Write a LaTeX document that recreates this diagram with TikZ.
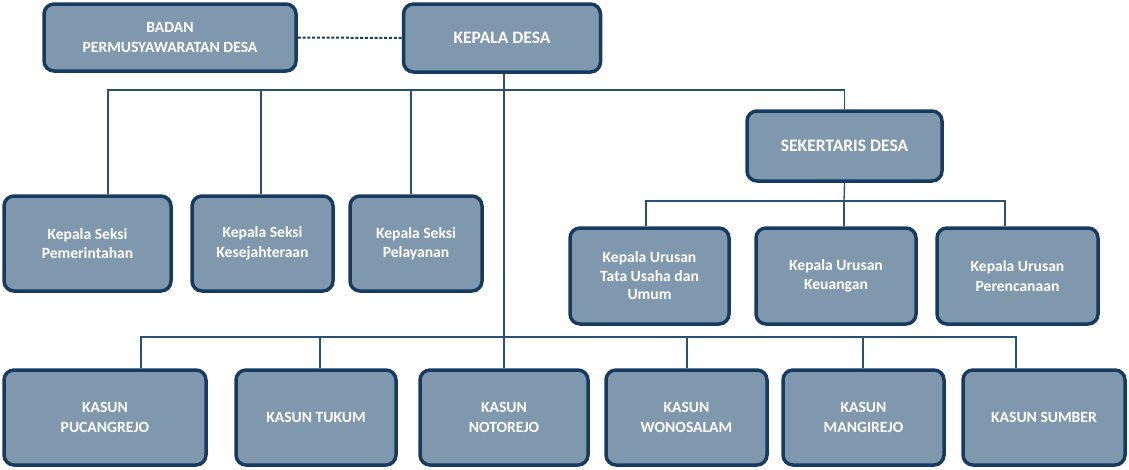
\documentclass[tikz,border=0pt]{standalone}
\usepackage{fontspec}
\setmainfont{Carlito}
\definecolor{boxfill}{HTML}{7F98AD}
\definecolor{boxline}{HTML}{173B60}
\definecolor{connline}{HTML}{2A5075}
\tikzset{
  orgbox/.style={draw=boxline, fill=boxfill, line width=3.5pt, rounded corners=10pt,
    text=white, font=\bfseries\fontsize{15.6}{19.5}\selectfont, align=center,
    inner sep=2pt, anchor=center},
  headbox/.style={orgbox, font=\bfseries\fontsize{17.5}{20}\selectfont},
  conn/.style={draw=connline, line width=1.3pt},
}
\begin{document}
\begin{tikzpicture}[x=1pt,y=-1pt]
\useasboundingbox (0,0) rectangle (1129,469);
% top row
\node[orgbox, minimum width=252pt, minimum height=67pt] (bpd) at (170,37.5) {BADAN\\PERMUSYAWARATAN DESA};
\node[headbox, minimum width=197pt, minimum height=68pt] (kd) at (502,38) {KEPALA DESA};
\node[headbox, minimum width=195pt, minimum height=70pt] (sek) at (844.5,146) {SEKERTARIS DESA};
% seksi
\node[orgbox, minimum width=167pt, minimum height=95pt] (s1) at (87.5,243.5) {Kepala Seksi\\Pemerintahan};
\node[orgbox, minimum width=141pt, minimum height=95pt] (s2) at (262.5,243.5) {Kepala Seksi\\Kesejahteraan};
\node[orgbox, minimum width=132pt, minimum height=95pt] (s3) at (416,243.5) {Kepala Seksi\\Pelayanan};
% urusan
\node[orgbox, font=\bfseries\fontsize{15.6}{18.5}\selectfont, minimum width=159pt, minimum height=96pt] (u1) at (649.5,276) {Kepala Urusan\\Tata Usaha dan\\Umum};
\node[orgbox, minimum width=160pt, minimum height=96pt] (u2) at (836,276) {Kepala Urusan\\Keuangan};
\node[orgbox, minimum width=161pt, minimum height=96pt] (u3) at (1017.5,276) {Kepala Urusan\\Perencanaan};
% kasun
\node[orgbox, minimum width=202pt, minimum height=95pt] (k1) at (105,417.5) {KASUN\\PUCANGREJO};
\node[orgbox, minimum width=160pt, minimum height=95pt] (k2) at (316,417.5) {KASUN TUKUM};
\node[orgbox, minimum width=168pt, minimum height=95pt] (k3) at (504,417.5) {KASUN\\NOTOREJO};
\node[orgbox, minimum width=161pt, minimum height=95pt] (k4) at (686.5,417.5) {KASUN\\WONOSALAM};
\node[orgbox, minimum width=161pt, minimum height=95pt] (k5) at (863.5,417.5) {KASUN\\MANGIREJO};
\node[orgbox, minimum width=162pt, minimum height=95pt] (k6) at (1044,417.5) {KASUN SUMBER};
% helper coordinates
\coordinate (busA) at (504,90);
\coordinate (busB) at (844,201);
\coordinate (busC) at (504,337);
\coordinate (xa) at (108,0);
\coordinate (xb) at (261,0);
\coordinate (xc) at (411,0);
\coordinate (xu1) at (646,0);
\coordinate (xu2) at (844,0);
\coordinate (xu3) at (1005,0);
\coordinate (xk1) at (141,0);
\coordinate (xk2) at (320,0);
\coordinate (xk3) at (504,0);
\coordinate (xk4) at (687,0);
\coordinate (xk5) at (863,0);
\coordinate (xk6) at (1016,0);
% connectors
\draw[draw=boxline, line width=2pt, dash pattern=on 3pt off 1.8pt] (bpd.east) -- (kd.west);
\draw[conn] (xk3 |- kd.south) -- (xk3 |- k3.north);
\draw[conn] (xa |- s1.north) |- (busA) -| (sek.north);
\draw[conn] (xb |- s2.north) -- (xb |- busA);
\draw[conn] (xc |- s3.north) -- (xc |- busA);
\draw[conn] (sek.south) -- (busB);
\draw[conn] (xu1 |- u1.north) |- (busB) -| (xu3 |- u3.north);
\draw[conn] (xu2 |- u2.north) -- (busB);
\draw[conn] (xk1 |- k1.north) |- (busC) -| (xk6 |- k6.north);
\draw[conn] (xk2 |- k2.north) -- (xk2 |- busC);
\draw[conn] (xk4 |- k4.north) -- (xk4 |- busC);
\draw[conn] (xk5 |- k5.north) -- (xk5 |- busC);
\end{tikzpicture}
\end{document}
